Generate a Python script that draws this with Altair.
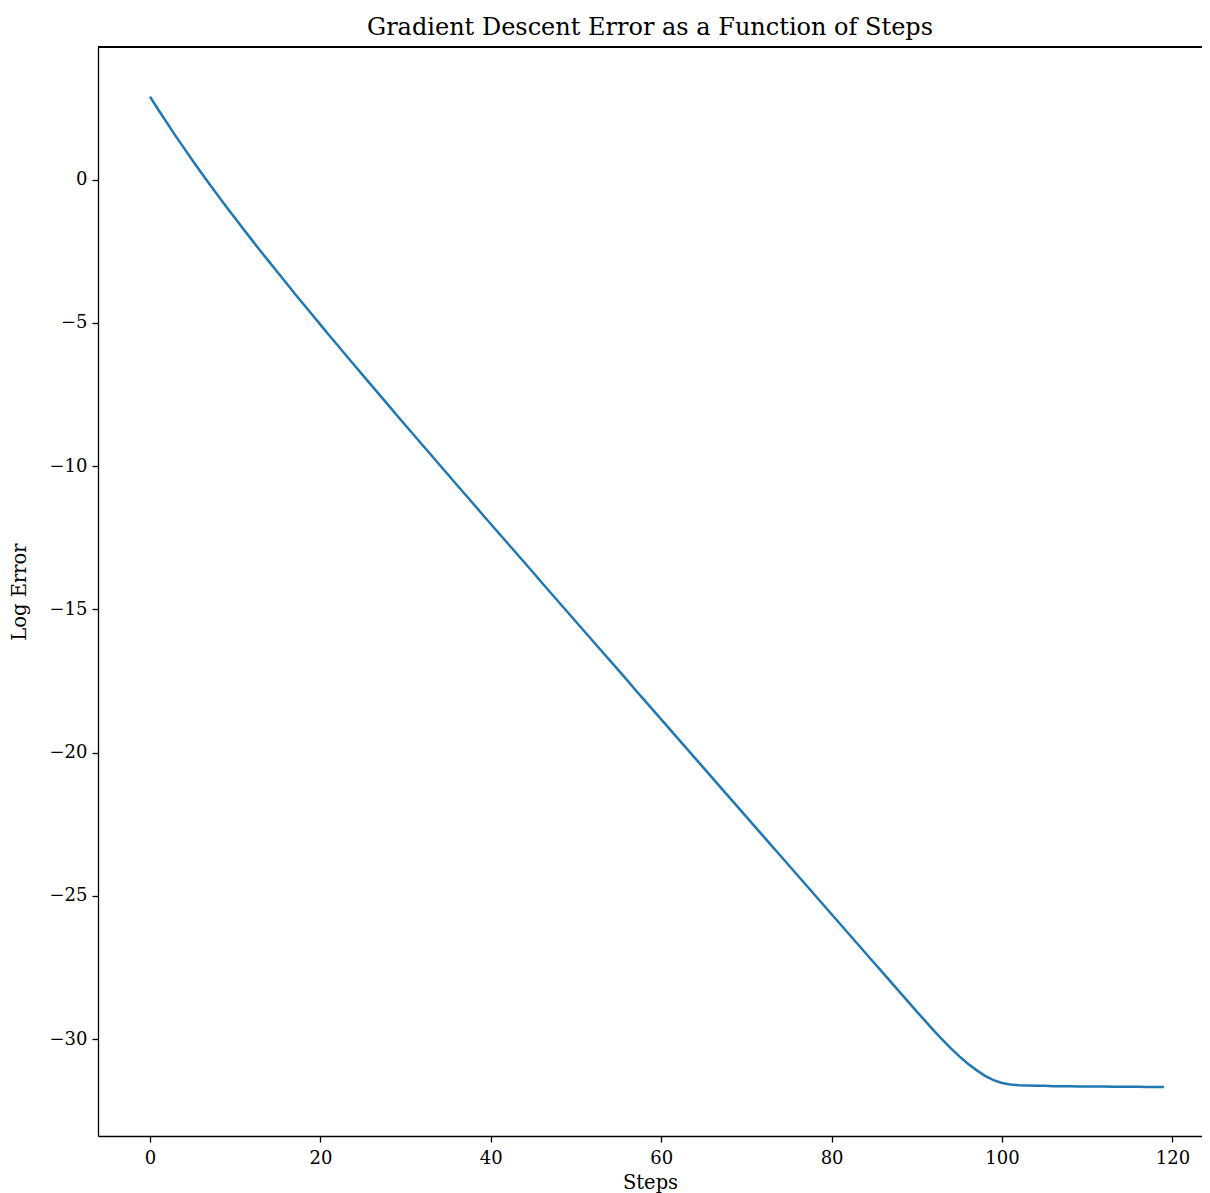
import altair as alt
import pandas as pd

steps = list(range(120))
log_error = [
    2.90, 2.43, 1.98, 1.53, 1.10, 0.67, 0.25, -0.16, -0.56, -0.96,
    -1.35, -1.74, -2.12, -2.50, -2.87, -3.24, -3.61, -3.98, -4.34, -4.70,
    -5.06, -5.42, -5.77, -6.13, -6.48, -6.83, -7.18, -7.53, -7.88, -8.23,
    -8.58, -8.92, -9.27, -9.61, -9.96, -10.30, -10.65, -10.99, -11.33, -11.68,
    -12.02, -12.36, -12.70, -13.04, -13.38, -13.72, -14.07, -14.41, -14.75, -15.09,
    -15.43, -15.77, -16.11, -16.45, -16.79, -17.13, -17.47, -17.82, -18.16, -18.50,
    -18.84, -19.18, -19.52, -19.86, -20.20, -20.54, -20.88, -21.22, -21.56, -21.90,
    -22.24, -22.58, -22.92, -23.26, -23.60, -23.94, -24.28, -24.62, -24.96, -25.30,
    -25.64, -25.98, -26.32, -26.66, -27.00, -27.34, -27.68, -28.02, -28.36, -28.70,
    -29.04, -29.37, -29.70, -30.02, -30.32, -30.60, -30.86, -31.08, -31.28, -31.43,
    -31.53, -31.58, -31.61, -31.62, -31.63, -31.63, -31.64, -31.64, -31.64, -31.65,
    -31.65, -31.65, -31.65, -31.66, -31.66, -31.66, -31.66, -31.67, -31.67, -31.67,
]
x_ticks = [0, 20, 40, 60, 80, 100, 120]
y_ticks = [0, -5, -10, -15, -20, -25, -30]

df = pd.DataFrame({"step": steps, "err": log_error})

FONT = "DejaVu Serif"
W, H = 1104, 1089

line = alt.Chart(df).mark_line(color="#1f77b4", strokeWidth=2.5, clip=True).encode(
    x=alt.X("step:Q", title="Steps",
            scale=alt.Scale(domain=[-6.1, 123.47], nice=False, zero=False),
            axis=alt.Axis(values=x_ticks, format="d", grid=False)),
    y=alt.Y("err:Q", title="Log Error",
            scale=alt.Scale(domain=[-33.38, 4.63], nice=False, zero=False),
            axis=alt.Axis(values=y_ticks, format="d", grid=False)),
)

top_spine = alt.Chart(df).mark_rule(color="black", strokeWidth=1.3).encode(
    x=alt.value(0), x2=alt.value(W), y=alt.value(0)
)

chart = alt.layer(line, top_spine).properties(
    width=W, height=H,
    title=alt.TitleParams("Gradient Descent Error as a Function of Steps",
                          font=FONT, fontSize=24, fontWeight="normal",
                          color="black", offset=6, anchor="middle"),
    autosize=alt.AutoSizeParams(type="none"),
    padding={"left": 90, "top": 39, "right": 0, "bottom": 57},
).configure_view(stroke=None).configure_axis(
    labelFont=FONT, labelFontSize=18, labelColor="black",
    titleFont=FONT, titleFontSize=19.5, titleColor="black", titleFontWeight="normal",
    domainColor="black", domainWidth=1.3, tickColor="black", tickWidth=1.3,
    tickSize=6, labelPadding=5,
).configure_axisX(titlePadding=6, labelPadding=7).configure_axisY(titlePadding=20)

chart.save("out.html", embed_options={"renderer": "svg", "actions": False})
